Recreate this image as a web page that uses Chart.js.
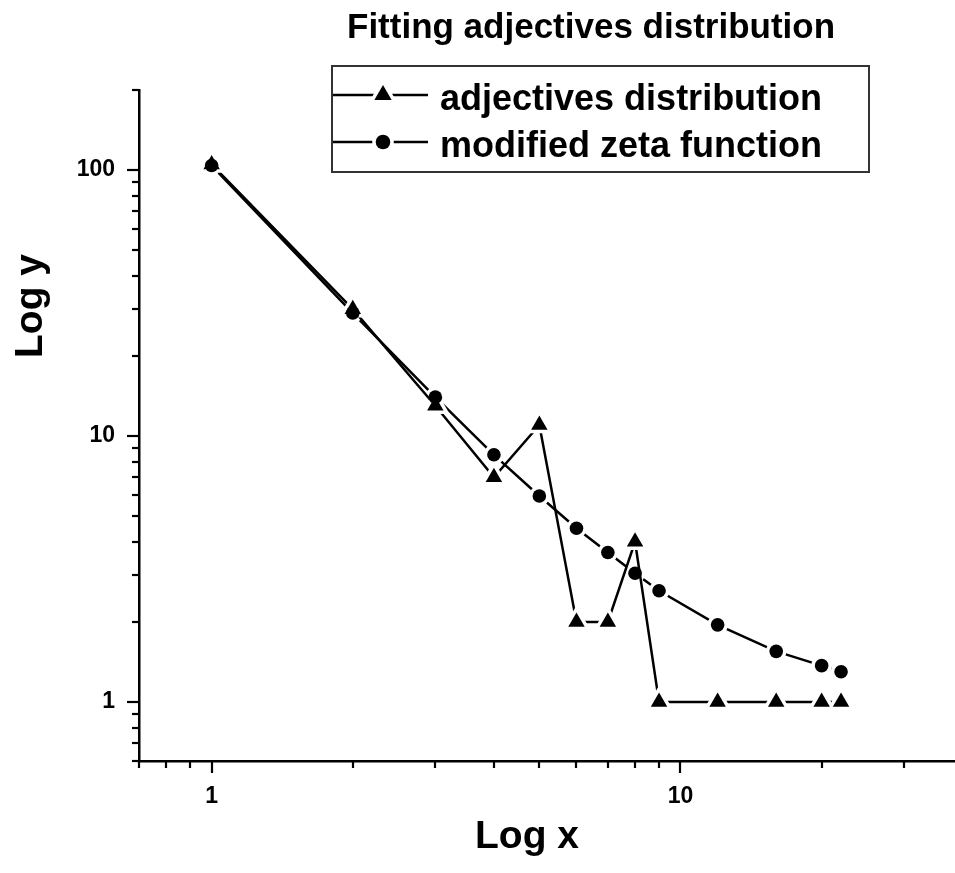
<!DOCTYPE html>
<html>
<head>
<meta charset="utf-8">
<title>Fitting adjectives distribution</title>
<style>
  html, body { margin: 0; padding: 0; background: #fff; }
</style>
<script src="https://cdn.jsdelivr.net/npm/chart.js@4.4.1/dist/chart.umd.min.js"></script>
</head>
<body>
<canvas id="fitChart" width="955" height="873"></canvas>
<script>
// values
const rankValues = [1, 2, 3, 4, 5, 6, 7, 8, 9, 12, 16, 20, 22];
const adjectiveCounts = [105, 30, 13, 7, 11, 2, 2, 4, 1, 1, 1, 1, 1];
const zetaValues = [104, 29, 14, 8.5, 5.95, 4.5, 3.65, 3.05, 2.62, 1.95, 1.55, 1.37, 1.3];

const seriesLabels = ['adjectives distribution', 'modified zeta function'];
const chartTitle = 'Fitting adjectives distribution';

const xMajorTicks = [1, 10];
const xMinorTicks = [0.7, 0.8, 0.9, 2, 3, 4, 5, 6, 7, 8, 9, 20, 30];
const yMajorTicks = [1, 10, 100];
const yMinorTicks = [0.6, 0.7, 0.8, 0.9, 2, 3, 4, 5, 6, 7, 8, 9, 20, 30, 40, 50, 60, 70, 80, 90, 200];

const FONT = '"Liberation Sans", Arial, sans-serif';
Chart.defaults.font.family = FONT;
Chart.defaults.color = '#000';

function toPoints(ys) {
    return rankValues.map((x, i) => ({ x: x, y: ys[i] }));
}

// solid markers are redrawn on top, the white border leaves a gap in the lines
const markerSizes = { triangle: 9.5, circle: 6.8 };

const decorations = {
    id: 'decorations',
    afterDatasetsDraw(chart) {
        const ctx = chart.ctx;
        ctx.save();
        ctx.fillStyle = '#000';
        chart.data.datasets.forEach((ds, i) => {
            chart.getDatasetMeta(i).data.forEach(pt => {
                Chart.helpers.drawPoint(ctx, { pointStyle: ds.pointStyle, radius: markerSizes[ds.pointStyle], borderWidth: 0 }, pt.x, pt.y);
            });
        });
        ctx.restore();
    },
    afterDraw(chart) {
        const ctx = chart.ctx;
        const area = chart.chartArea;
        const xs = chart.scales.x, ys = chart.scales.y;
        ctx.save();

        // tick marks
        ctx.strokeStyle = '#000';
        ctx.lineWidth = 2.2;
        const tick = (x1, y1, x2, y2) => {
            ctx.beginPath(); ctx.moveTo(x1, y1); ctx.lineTo(x2, y2); ctx.stroke();
        };
        xMajorTicks.forEach(v => { const p = Math.round(xs.getPixelForValue(v)); tick(p, area.bottom, p, area.bottom + 12); });
        xMinorTicks.forEach(v => { const p = Math.round(xs.getPixelForValue(v)); tick(p, area.bottom, p, area.bottom + 7); });
        yMajorTicks.forEach(v => { const p = Math.round(ys.getPixelForValue(v)); tick(area.left, p, area.left - 12, p); });
        yMinorTicks.forEach(v => { const p = Math.round(ys.getPixelForValue(v)); tick(area.left, p, area.left - 7, p); });

        // title
        ctx.fillStyle = '#000';
        ctx.font = 'bold 35px ' + FONT;
        ctx.textAlign = 'left';
        ctx.textBaseline = 'alphabetic';
        ctx.fillText(chartTitle, 347, 38);

        // axis titles
        ctx.font = 'bold 39px ' + FONT;
        ctx.textAlign = 'center';
        ctx.fillText('Log x', 527, 848);
        ctx.save();
        ctx.translate(42, 306);
        ctx.rotate(-Math.PI / 2);
        ctx.fillText('Log y', 0, 0);
        ctx.restore();

        // legend box
        ctx.strokeStyle = '#333';
        ctx.lineWidth = 2;
        ctx.strokeRect(332, 66, 537, 106);
        const rows = [95, 142];
        chart.data.datasets.forEach((ds, i) => {
            const y = rows[i];
            ctx.strokeStyle = '#000';
            ctx.lineWidth = 2.5;
            tick(333, y, 428, y);
            ctx.fillStyle = '#fff';
            ctx.strokeStyle = '#fff';
            ctx.lineWidth = 7;
            Chart.helpers.drawPoint(ctx, { pointStyle: ds.pointStyle, radius: markerSizes[ds.pointStyle] + 0.5, borderWidth: 7 }, 383, y);
            ctx.fillStyle = '#000';
            Chart.helpers.drawPoint(ctx, { pointStyle: ds.pointStyle, radius: markerSizes[ds.pointStyle] + 0.5, borderWidth: 0 }, 383, y);
            ctx.font = 'bold 36px ' + FONT;
            ctx.textAlign = 'left';
            ctx.fillText(ds.label, 440, y + 15);
        });
        ctx.restore();
    }
};

const ctx = document.getElementById('fitChart').getContext('2d');
const fitChart = new Chart(ctx, {
    type: 'line',
    data: {
        datasets: [{
            label: seriesLabels[0],
            data: toPoints(adjectiveCounts),
            borderColor: '#000',
            borderWidth: 2.5,
            pointStyle: 'triangle',
            pointRadius: markerSizes.triangle,
            pointBackgroundColor: '#000',
            pointBorderColor: '#fff',
            pointBorderWidth: 7,
            tension: 0
        }, {
            label: seriesLabels[1],
            data: toPoints(zetaValues),
            borderColor: '#000',
            borderWidth: 2.5,
            pointStyle: 'circle',
            pointRadius: markerSizes.circle,
            pointBackgroundColor: '#000',
            pointBorderColor: '#fff',
            pointBorderWidth: 7,
            tension: 0
        }]
    },
    options: {
        responsive: false,
        animation: false,
        events: [],
        layout: { autoPadding: false, padding: { top: 90, left: 0, right: 0, bottom: 0 } },
        plugins: {
            legend: { display: false },
            title: { display: false },
            tooltip: { enabled: false }
        },
        scales: {
            x: {
                type: 'logarithmic',
                min: 0.7,
                max: 38.5,
                grid: { display: false, drawTicks: true, tickLength: 12 },
                border: { display: true, color: '#000', width: 2.5 },
                ticks: {
                    padding: 10,
                    font: { size: 23, weight: 'bold' },
                    callback: v => String(v)
                },
                afterBuildTicks: s => { s.ticks = xMajorTicks.map(v => ({ value: v })); },
                afterFit: s => { s.height = 112; s.paddingLeft = 0; s.paddingRight = 0; }
            },
            y: {
                type: 'logarithmic',
                min: 0.6,
                max: 200,
                grid: { display: false, drawTicks: true, tickLength: 12 },
                border: { display: true, color: '#000', width: 2.5 },
                ticks: {
                    padding: 12,
                    font: { size: 23, weight: 'bold' },
                    callback: v => String(v)
                },
                afterBuildTicks: s => { s.ticks = yMajorTicks.map(v => ({ value: v })); },
                afterFit: s => { s.width = 139; s.paddingTop = 0; s.paddingBottom = 0; }
            }
        }
    },
    plugins: [decorations]
});
</script>
</body>
</html>
